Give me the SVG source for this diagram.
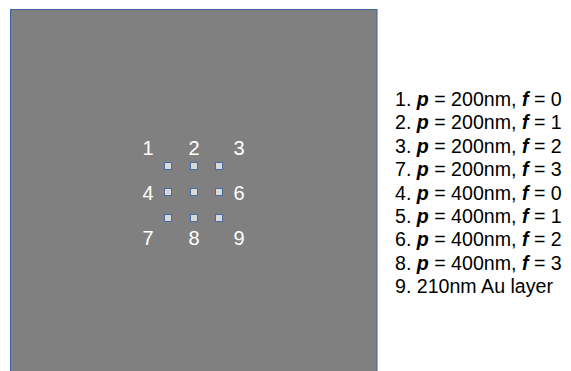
<svg xmlns="http://www.w3.org/2000/svg" width="571" height="371" viewBox="0 0 571 371">
<style>
.lbl{font-family:"Liberation Sans",Arial,sans-serif;font-size:20px;fill:#ffffff;text-anchor:middle}
.leg{font-family:"Liberation Sans",Arial,sans-serif;font-size:19.6px;fill:#000000}
.b{font-weight:bold;font-style:italic}
.sq{fill:#d9d9d9;stroke:#4a6aa0;stroke-width:1}
</style>
<rect width="571" height="371" fill="#ffffff"/>
<g id="substrate">
<rect x="10.5" y="9.5" width="366.5" height="370" fill="#808080" stroke="#3f5f9f" stroke-width="1"/>
</g>
<g id="squares">
<rect class="sq" x="164.5" y="162.5" width="7" height="7"/>
<rect class="sq" x="190.5" y="162.5" width="7" height="7"/>
<rect class="sq" x="215.5" y="162.5" width="7" height="7"/>
<rect class="sq" x="164.5" y="188.5" width="7" height="7"/>
<rect class="sq" x="190.5" y="188.5" width="7" height="7"/>
<rect class="sq" x="215.5" y="188.5" width="7" height="7"/>
<rect class="sq" x="164.5" y="214.5" width="7" height="7"/>
<rect class="sq" x="190.5" y="214.5" width="7" height="7"/>
<rect class="sq" x="215.5" y="214.5" width="7" height="7"/>
</g>
<g id="labels">
<text class="lbl" x="148" y="155">1</text>
<text class="lbl" x="194" y="155">2</text>
<text class="lbl" x="239" y="155">3</text>
<text class="lbl" x="148" y="200">4</text>
<text class="lbl" x="239" y="200">6</text>
<text class="lbl" x="148" y="245">7</text>
<text class="lbl" x="194" y="245">8</text>
<text class="lbl" x="239" y="245">9</text>
</g>
<g id="legend">
<text class="leg" x="395" y="106">1. <tspan class="b">p</tspan> = 200nm, <tspan class="b">f</tspan> = 0</text>
<text class="leg" x="395" y="129.4">2. <tspan class="b">p</tspan> = 200nm, <tspan class="b">f</tspan> = 1</text>
<text class="leg" x="395" y="152.8">3. <tspan class="b">p</tspan> = 200nm, <tspan class="b">f</tspan> = 2</text>
<text class="leg" x="395" y="176.2">7. <tspan class="b">p</tspan> = 200nm, <tspan class="b">f</tspan> = 3</text>
<text class="leg" x="395" y="199.6">4. <tspan class="b">p</tspan> = 400nm, <tspan class="b">f</tspan> = 0</text>
<text class="leg" x="395" y="223">5. <tspan class="b">p</tspan> = 400nm, <tspan class="b">f</tspan> = 1</text>
<text class="leg" x="395" y="246.4">6. <tspan class="b">p</tspan> = 400nm, <tspan class="b">f</tspan> = 2</text>
<text class="leg" x="395" y="269.8">8. <tspan class="b">p</tspan> = 400nm, <tspan class="b">f</tspan> = 3</text>
<text class="leg" x="395" y="293.2">9. 210nm Au layer</text>
</g>
</svg>
